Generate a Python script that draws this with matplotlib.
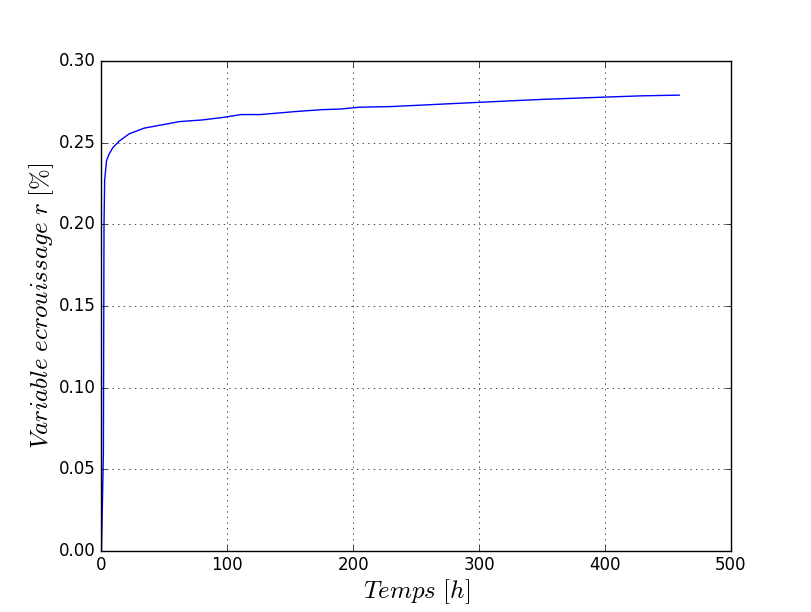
import matplotlib
matplotlib.use('Agg')
import matplotlib.pyplot as plt

# temps (h) et variable d'ecrouissage r (%)
temps = [0, 1.5, 2.0, 2.5, 4, 6, 9, 14, 22, 34, 48, 62, 80, 96, 111, 126,
         155, 175, 190, 205, 230, 300, 350, 400, 430, 459]
r_ecr = [0.0, 0.06, 0.20, 0.227, 0.239, 0.243, 0.247, 0.251, 0.2555, 0.259,
         0.261, 0.263, 0.264, 0.2655, 0.2673, 0.2673, 0.2692, 0.2703, 0.2707,
         0.2718, 0.2722, 0.2748, 0.2766, 0.2780, 0.2788, 0.2792]

plt.style.use('classic')
plt.rcParams['mathtext.fontset'] = 'cm'

fig = plt.figure(figsize=(8.12, 6.12), dpi=100, facecolor='white')
ax = fig.add_axes([0.125, 0.1, 0.775, 0.8])
ax.plot(temps, r_ecr, 'b-', linewidth=1)

ax.set_xlim(0, 500)
ax.set_ylim(0, 0.30)
ax.set_xticks([0, 100, 200, 300, 400, 500])
ax.set_yticks([0.0, 0.05, 0.10, 0.15, 0.20, 0.25, 0.30])
ax.set_yticklabels(['0.00', '0.05', '0.10', '0.15', '0.20', '0.25', '0.30'])
ax.tick_params(labelsize=12)
ax.grid(True)

ax.set_xlabel(r'$Temps\ [h]$', fontsize=18, labelpad=2)
ax.set_ylabel(r'$Variable\ ecrouissage\ r\ [\%]$', fontsize=18, labelpad=2)

fig.savefig('out.png', dpi=100, facecolor='white')
